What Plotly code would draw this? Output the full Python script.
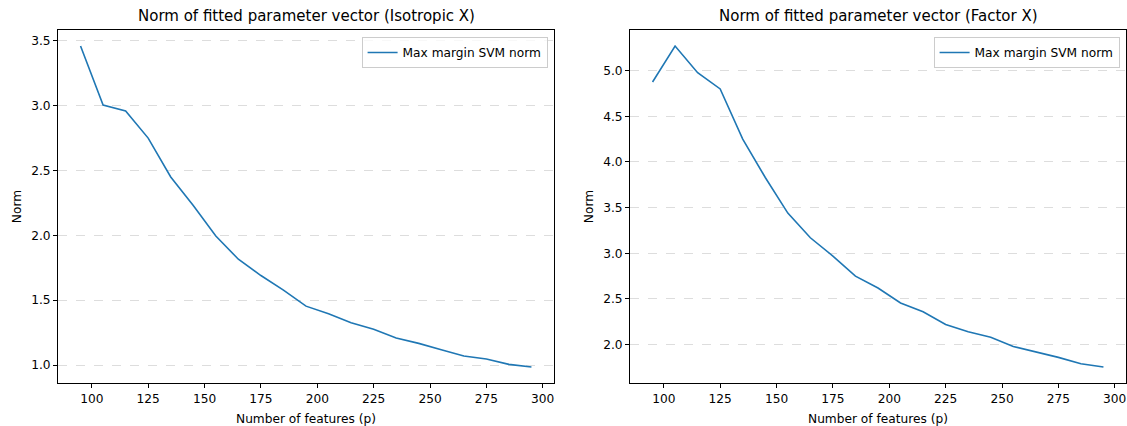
import plotly.graph_objects as go

p_features = [95, 105, 115, 125, 135, 145, 155, 165, 175, 185, 195, 205, 215, 225, 235, 245, 255, 265, 275, 285, 295]
norm_isotropic = [3.46, 3.005, 2.96, 2.75, 2.45, 2.23, 1.995, 1.816, 1.69, 1.578, 1.454, 1.395, 1.326, 1.275, 1.208, 1.167, 1.118, 1.069, 1.046, 1.005, 0.985]
norm_factor = [4.876, 5.27, 4.978, 4.80, 4.25, 3.83, 3.44, 3.17, 2.97, 2.75, 2.62, 2.456, 2.36, 2.22, 2.14, 2.08, 1.98, 1.92, 1.86, 1.79, 1.755]
titles = ["Norm of fitted parameter vector (Isotropic X)", "Norm of fitted parameter vector (Factor X)"]
series_name = "Max margin SVM norm"
x_ticks = [100, 125, 150, 175, 200, 225, 250, 275, 300]

W, H = 1127, 426
ml, mr, mt, mb = 58, 1, 30, 43
plot_w = W - ml - mr
d1_end = (554 - ml) / plot_w
d2_start = (630 - ml) / plot_w

fig = go.Figure()
blue = "#1f77b4"
font = "DejaVu Sans, sans-serif"
fs = 12.2

fig.add_trace(go.Scatter(x=p_features, y=norm_isotropic, mode="lines", name=series_name,
                         line=dict(color=blue, width=1.6), xaxis="x", yaxis="y", legend="legend"))
fig.add_trace(go.Scatter(x=p_features, y=norm_factor, mode="lines", name=series_name,
                         line=dict(color=blue, width=1.6), xaxis="x2", yaxis="y2", legend="legend2"))

def pad_range(vals, frac=0.05):
    lo, hi = min(vals), max(vals)
    d = (hi - lo) * frac
    return [lo - d, hi + d]

xr = pad_range(p_features)

common_x = dict(range=xr, tickvals=x_ticks, showgrid=False, zeroline=False, showline=True,
                linecolor="black", linewidth=1, mirror=True, ticks="outside", ticklen=4,
                tickcolor="black", tickfont=dict(size=fs, color="black", family=font), automargin=False,
                title=dict(text="Number of features (p)", font=dict(size=fs, color="black", family=font), standoff=10))
common_y = dict(showgrid=True, gridcolor="#dddddd", griddash="dash", gridwidth=0.8, zeroline=False,
                showline=True, linecolor="black", linewidth=1, mirror=True, ticks="outside", ticklen=4,
                tickcolor="black", tickfont=dict(size=fs, color="black", family=font), dtick=0.5,
                tickformat=".1f", automargin=False,
                title=dict(text="Norm", font=dict(size=fs, color="black", family=font), standoff=6))

fig.update_layout(
    width=W, height=H,
    margin=dict(l=ml, r=mr, t=mt, b=mb, autoexpand=False),
    paper_bgcolor="white", plot_bgcolor="white",
    font=dict(family=font, color="black"),
    xaxis=dict(domain=[0, d1_end], anchor="y", **common_x),
    yaxis=dict(domain=[0, 1], anchor="x", range=pad_range(norm_isotropic), **common_y),
    xaxis2=dict(domain=[d2_start, 1], anchor="y2", **common_x),
    yaxis2=dict(domain=[0, 1], anchor="x2", range=pad_range(norm_factor), **common_y),
    legend=dict(x=d1_end - 0.006, y=0.98, xanchor="right", yanchor="top",
                bgcolor="rgba(255,255,255,0.8)", bordercolor="#cccccc", borderwidth=1,
                font=dict(size=fs, family=font, color="black")),
    legend2=dict(x=0.994, y=0.98, xanchor="right", yanchor="top",
                 bgcolor="rgba(255,255,255,0.8)", bordercolor="#cccccc", borderwidth=1,
                 font=dict(size=fs, family=font, color="black")),
    showlegend=True,
)

for i, t in enumerate(titles):
    xd = [0, d1_end] if i == 0 else [d2_start, 1]
    fig.add_annotation(text=t, x=(xd[0] + xd[1]) / 2, y=1, xref="paper", yref="paper",
                       xanchor="center", yanchor="bottom", yshift=3, showarrow=False,
                       font=dict(size=15, family=font, color="black"))

fig.write_html("out.html", config={"displayModeBar": False},
               post_script="document.body.style.margin='0';document.body.style.padding='0';")
